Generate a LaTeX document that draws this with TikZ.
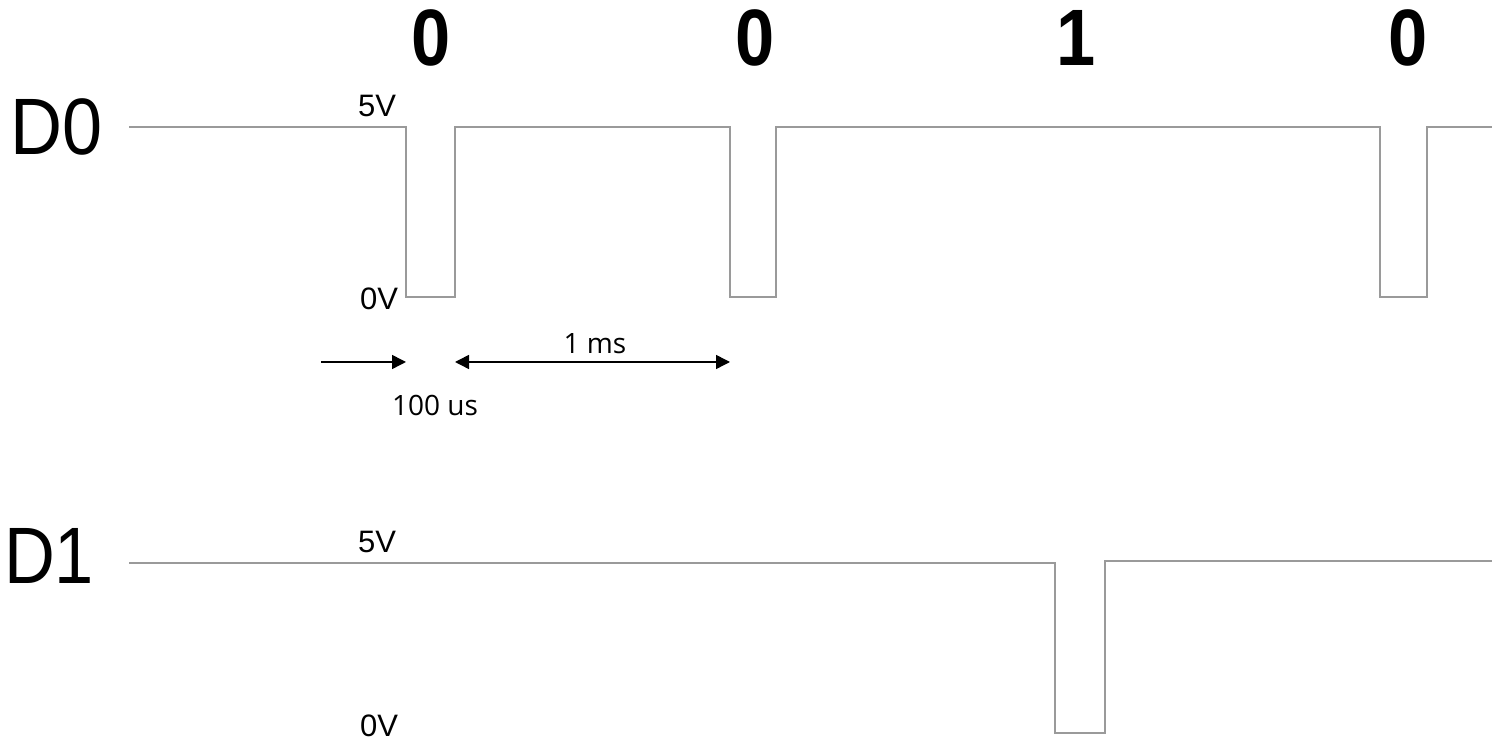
\documentclass[tikz,border=0pt]{standalone}
\usepackage{fontspec}
\setmainfont{Liberation Sans}
\newfontfamily\notefont{Open Sans}
\usetikzlibrary{arrows.meta}
\definecolor{sig}{HTML}{9A9A9A}
\newcommand{\narrowtext}[2]{\scalebox{#1}[1]{#2}}
\tikzset{
  signal/.style={draw=sig, line width=0.75pt, line join=miter},
  bitlabel/.style={inner sep=0pt, font=\fontsize{40}{40}\selectfont\bfseries},
  chlabel/.style={inner sep=0pt, font=\fontsize{40}{40}\selectfont},
  vlabel/.style={inner sep=0pt, font=\fontsize{15.5}{16}\selectfont},
  note/.style={inner sep=0pt, font=\notefont\fontsize{14}{15}\selectfont},
  dim/.style={draw=black, line width=0.75pt},
  tip/.style={-{Triangle[length=7pt,width=7pt]}},
  tips/.style={{Triangle[length=7pt,width=7pt]}-{Triangle[length=7pt,width=7pt]}}
}
\begin{document}
\begin{tikzpicture}[x=0.5pt,y=-0.5pt]
\useasboundingbox (0,0) rectangle (1501,742);
% bit labels
\node[bitlabel] (b0) at (431,38) {\narrowtext{0.88}{0}};
\node[bitlabel] (b1) at (755,38) {\narrowtext{0.88}{0}};
\node[bitlabel] (b2) at (1076,38) {\narrowtext{0.88}{1}};
\node[bitlabel] (b3) at (1408,38) {\narrowtext{0.88}{0}};
% channel labels
\node[chlabel] (d0) at (57,127) {\narrowtext{0.9}{D0}};
\node[chlabel] (d1) at (49,556) {\narrowtext{0.88}{D1}};
% voltage labels
\node[vlabel] (v5a) at (377,106) {5V};
\node[vlabel] (v0a) at (379,299) {0V};
\node[vlabel] (v5b) at (377,542) {5V};
\node[vlabel] (v0b) at (379,726) {0V};
% D0 waveform
\draw[signal] (129,127) -- (406,127) -- (406,297) -- (455,297) -- (455,127)
  -- (730,127) -- (730,297) -- (776,297) -- (776,127)
  -- (1380,127) -- (1380,297) -- (1427,297) -- (1427,127) -- (1492,127);
% D1 waveform
\draw[signal] (129,563) -- (1055,563) -- (1055,733) -- (1105,733) -- (1105,561) -- (1492,561);
% timing annotations
\coordinate (a1) at (321,362);
\coordinate (a2) at (406,362);
\coordinate (m1) at (455,362);
\coordinate (m2) at (730,362);
\draw[dim,tip] (a1) -- (a2);
\draw[dim,tips] (m1) -- (m2);
\node[note] (ms) at (595,344) {1 ms};
\node[note] (us) at (435,405) {100 us};
\end{tikzpicture}
\end{document}
